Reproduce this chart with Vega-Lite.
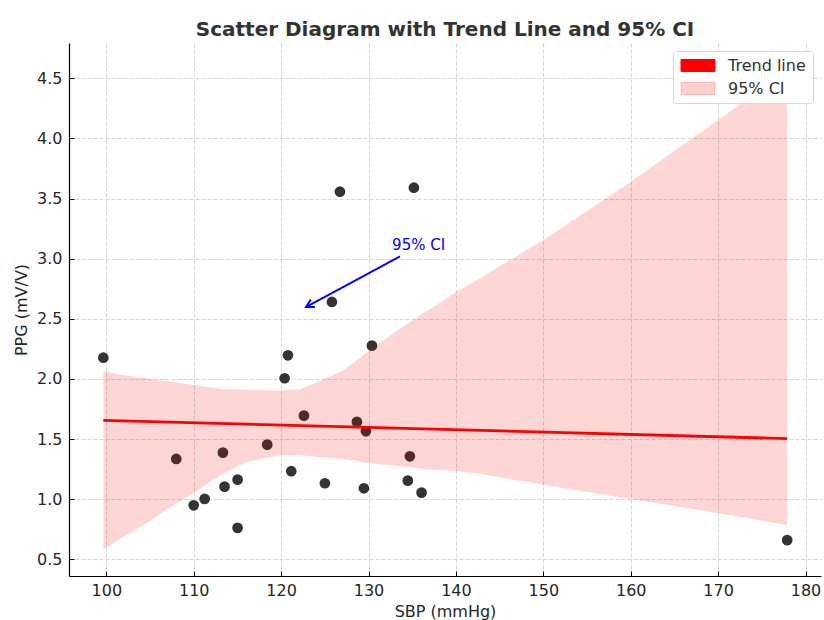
{
  "$schema": "https://vega.github.io/schema/vega-lite/v6.json",
  "width": 752,
  "height": 533,
  "autosize": "none",
  "padding": {"left": 69, "top": 43, "right": 3, "bottom": 44},
  "background": "white",
  "title": {
    "text": "Scatter Diagram with Trend Line and 95% CI",
    "fontSize": 20,
    "fontWeight": "bold",
    "font": "DejaVu Sans",
    "color": "#333333",
    "anchor": "middle",
    "baseline": "bottom",
    "offset": -17
  },
  "config": {
    "font": "DejaVu Sans",
    "view": {"stroke": null},
    "axis": {
      "grid": true,
      "gridDash": [4, 2],
      "gridColor": "#cccccc",
      "gridWidth": 0.8,
      "domainColor": "#000000",
      "domainWidth": 1.2,
      "tickColor": "#000000",
      "tickWidth": 1,
      "labelFont": "DejaVu Sans",
      "labelFontSize": 16,
      "labelColor": "#262626",
      "titleFont": "DejaVu Sans",
      "titleFontSize": 16,
      "titleFontWeight": "normal",
      "titleColor": "#262626"
    }
  },
  "datasets": {
    "points": [
      {"sbp": 99.66, "ppg": 2.177},
      {"sbp": 108.0, "ppg": 1.335},
      {"sbp": 110.0, "ppg": 0.95},
      {"sbp": 111.25, "ppg": 1.003},
      {"sbp": 113.34, "ppg": 1.388},
      {"sbp": 113.53, "ppg": 1.105},
      {"sbp": 115.02, "ppg": 1.163},
      {"sbp": 115.02, "ppg": 0.762},
      {"sbp": 118.41, "ppg": 1.454},
      {"sbp": 120.4, "ppg": 2.006},
      {"sbp": 120.78, "ppg": 2.197},
      {"sbp": 121.16, "ppg": 1.233},
      {"sbp": 122.61, "ppg": 1.695},
      {"sbp": 125.01, "ppg": 1.133},
      {"sbp": 125.81, "ppg": 2.64},
      {"sbp": 126.73, "ppg": 3.557},
      {"sbp": 128.67, "ppg": 1.643},
      {"sbp": 129.47, "ppg": 1.091},
      {"sbp": 129.7, "ppg": 1.565},
      {"sbp": 130.39, "ppg": 2.277},
      {"sbp": 134.5, "ppg": 1.155},
      {"sbp": 134.73, "ppg": 1.357},
      {"sbp": 135.19, "ppg": 3.59},
      {"sbp": 136.07, "ppg": 1.055},
      {"sbp": 177.9, "ppg": 0.66}
    ],
    "band": [
      {"sbp": 99.66, "lower": 0.58, "upper": 2.066},
      {"sbp": 102.0, "lower": 0.69, "upper": 2.03},
      {"sbp": 104.6, "lower": 0.8, "upper": 2.005},
      {"sbp": 107.0, "lower": 0.92, "upper": 1.98},
      {"sbp": 110.0, "lower": 1.05, "upper": 1.95},
      {"sbp": 113.0, "lower": 1.2, "upper": 1.918},
      {"sbp": 116.0, "lower": 1.31, "upper": 1.91},
      {"sbp": 120.0, "lower": 1.368, "upper": 1.905},
      {"sbp": 122.1, "lower": 1.368, "upper": 1.915},
      {"sbp": 124.4, "lower": 1.35, "upper": 1.98},
      {"sbp": 127.1, "lower": 1.335, "upper": 2.07},
      {"sbp": 130.0, "lower": 1.3, "upper": 2.23},
      {"sbp": 132.8, "lower": 1.28, "upper": 2.38},
      {"sbp": 136.6, "lower": 1.25, "upper": 2.56},
      {"sbp": 140.0, "lower": 1.235, "upper": 2.72},
      {"sbp": 142.8, "lower": 1.21, "upper": 2.84},
      {"sbp": 150.0, "lower": 1.12, "upper": 3.155},
      {"sbp": 160.0, "lower": 1.003, "upper": 3.64},
      {"sbp": 170.0, "lower": 0.884, "upper": 4.153},
      {"sbp": 177.9, "lower": 0.786, "upper": 4.555}
    ],
    "trend": [
      {"sbp": 99.66, "ppg": 1.656},
      {"sbp": 177.9, "ppg": 1.504}
    ],
    "arrow": [
      {"sbp": 133.6, "ppg": 3.02, "sbp2": 123.1, "ppg2": 2.607}
    ],
    "head": [
      {"sbp": 122.85, "ppg": 2.598}
    ],
    "note": [
      {"sbp": 132.7, "ppg": 3.07, "label": "95% CI"}
    ]
  },
  "encoding": {
    "x": {
      "field": "sbp",
      "type": "quantitative",
      "scale": {"domain": [95.73, 181.77], "nice": false, "zero": false},
      "axis": {
        "title": "SBP (mmHg)",
        "values": [100, 110, 120, 130, 140, 150, 160, 170, 180],
        "tickSize": -5,
        "labelPadding": 11,
        "titlePadding": 5
      }
    }
  },
  "layer": [
    {
      "data": {"name": "points"},
      "mark": {"type": "point", "filled": true, "size": 115, "color": "#333333", "opacity": 1},
      "encoding": {
        "y": {
          "field": "ppg",
          "type": "quantitative",
          "scale": {"domain": [0.362, 4.793], "nice": false, "zero": false},
          "axis": {
            "title": "PPG (mV/V)",
            "values": [0.5, 1.0, 1.5, 2.0, 2.5, 3.0, 3.5, 4.0, 4.5],
            "format": ".1f",
            "tickSize": -5,
            "labelPadding": 12,
            "titlePadding": 7
          }
        }
      }
    },
    {
      "data": {"name": "band"},
      "mark": {"type": "area", "color": "#ff0000", "fillOpacity": 0.16, "interpolate": "linear"},
      "encoding": {
        "y": {"field": "lower", "type": "quantitative"},
        "y2": {"field": "upper"}
      }
    },
    {
      "data": {"name": "trend"},
      "mark": {"type": "line", "strokeWidth": 2.8},
      "encoding": {
        "y": {"field": "ppg", "type": "quantitative"},
        "color": {
          "datum": "Trend line",
          "scale": {"domain": ["Trend line", "95% CI"], "range": ["#ff0000", "#ff0000"]},
          "legend": {
            "title": null,
            "orient": "top-right",
            "offset": 8,
            "padding": 6.5,
            "fillColor": "white",
            "strokeColor": "#d6d6d6",
            "cornerRadius": 3,
            "symbolType": "M-2.83,-1H2.83V1H-2.83Z",
            "symbolSize": 144,
            "symbolOffset": 10.5,
            "symbolStrokeWidth": 1,
            "labelFontSize": 16,
            "labelFont": "DejaVu Sans",
            "labelColor": "#333333",
            "labelOffset": 22,
            "rowPadding": 7,
            "encode": {
              "symbols": {
                "update": {
                  "fill": {"signal": "datum.label === 'Trend line' ? '#ff0000' : '#ffd0d0'"},
                  "strokeOpacity": {"signal": "datum.label === 'Trend line' ? 1 : 0.2"},
                  "fillOpacity": {"value": 1},
                  "opacity": {"value": 1}
                }
              }
            }
          }
        }
      }
    },
    {
      "data": {"name": "arrow"},
      "mark": {"type": "rule", "color": "#0000ff", "strokeWidth": 2},
      "encoding": {
        "y": {"field": "ppg", "type": "quantitative"},
        "x2": {"field": "sbp2"},
        "y2": {"field": "ppg2"}
      }
    },
    {
      "data": {"name": "head"},
      "mark": {
        "type": "point",
        "shape": "M1.1,-0.6L0,0L1.1,0.6",
        "filled": false,
        "size": 200,
        "stroke": "#0000ff",
        "strokeWidth": 2,
        "opacity": 1,
        "angle": 331.5
      },
      "encoding": {
        "y": {"field": "ppg", "type": "quantitative"}
      }
    },
    {
      "data": {"name": "note"},
      "mark": {"type": "text", "align": "left", "baseline": "alphabetic", "fontSize": 15, "color": "#0000ff", "font": "DejaVu Sans"},
      "encoding": {
        "y": {"field": "ppg", "type": "quantitative"},
        "text": {"field": "label"}
      }
    }
  ]
}
